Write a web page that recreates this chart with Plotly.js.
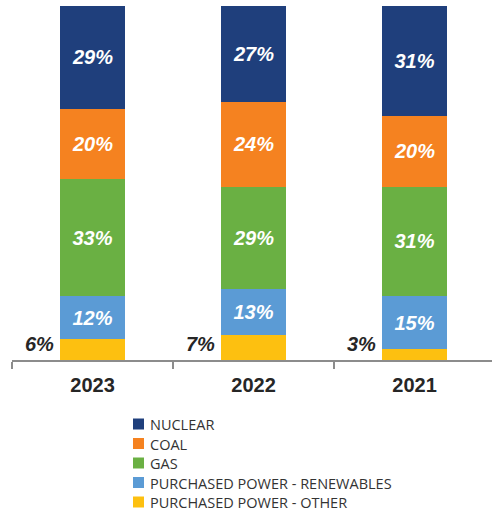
<!DOCTYPE html>
<html>
<head>
<meta charset="utf-8">
<script src="https://cdn.plot.ly/plotly-3.0.1.min.js"></script>
<style>html,body{margin:0;padding:0;background:#fff;}#chart{width:492px;height:511px;}</style>
</head>
<body>
<div id="chart"></div>
<script>
var categories = ["2023", "2022", "2021"];
var other = [6, 7, 3];
var renewables = [12, 13, 15];
var gas = [33, 29, 31];
var coal = [20, 24, 20];
var nuclear = [29, 27, 31];
var seriesNames = ["PURCHASED POWER - OTHER", "PURCHASED POWER - RENEWABLES", "GAS", "COAL", "NUCLEAR"];
var seriesColors = ["#FDC010", "#5B9BD5", "#6AB043", "#F58220", "#1F3F7C"];
var seriesValues = [other, renewables, gas, coal, nuclear];

var traces = seriesValues.map(function (vals, i) {
  var inside = i > 0;
  return {
    type: "bar",
    name: seriesNames[i],
    x: categories,
    y: vals,
    width: 0.404,
    marker: { color: seriesColors[i], line: { width: 0 } },
    text: inside ? vals.map(function (v) { return "<b><i>" + v + "%</i></b>"; }) : null,
    textposition: inside ? "inside" : "none",
    insidetextanchor: "middle",
    textangle: 0,
    constraintext: "none",
    textfont: { family: "Liberation Sans, Arial, sans-serif", size: 20, color: "#ffffff" },
    hoverinfo: "none",
    showlegend: false
  };
});

// plot area in pixels (for placing the hand-made legend)
var W = 492, H = 511, ML = 12, MR = 0, MT = 6, MB = 151;
var PW = W - ML - MR, PH = H - MT - MB;
function px2x(px) { return (px - ML) / PW; }
function py2y(py) { return (H - MB - py) / PH; }

var annotations = categories.map(function (c, i) {
  return {
    x: i, y: 0, xref: "x", yref: "y",
    text: "<b><i>" + other[i] + "%</i></b>",
    showarrow: false,
    xanchor: "right", yanchor: "bottom",
    xshift: -37, yshift: 3,
    font: { family: "Liberation Sans, Arial, sans-serif", size: 20, color: "#262626" }
  };
});

var shapes = [];
var legendTop = 424, legendStep = 19.5;
for (var k = 0; k < seriesNames.length; k++) {
  var idx = seriesNames.length - 1 - k;
  var cy = legendTop + k * legendStep;
  shapes.push({
    type: "rect", xref: "paper", yref: "paper",
    x0: px2x(133), x1: px2x(144), y0: py2y(cy + 5.5), y1: py2y(cy - 5.5),
    fillcolor: seriesColors[idx], line: { width: 0 }
  });
  annotations.push({
    xref: "paper", yref: "paper", x: px2x(148), y: py2y(cy + 0.5),
    xanchor: "left", yanchor: "middle", showarrow: false,
    text: seriesNames[idx],
    font: { family: "Open Sans, sans-serif", size: 14.5, color: "#333333" }
  });
}

var layout = {
  width: W, height: H,
  margin: { l: ML, r: MR, t: MT, b: MB, pad: 0 },
  paper_bgcolor: "#ffffff", plot_bgcolor: "#ffffff",
  barmode: "stack",
  showlegend: false,
  xaxis: {
    type: "category",
    range: [-0.5, 2.481],
    showgrid: false, zeroline: false,
    showline: true, linecolor: "#8c8c8c", linewidth: 1.5,
    ticks: "outside", tickson: "boundaries", ticklen: 7, tickcolor: "#8c8c8c", tickwidth: 1.5,
    tickfont: { family: "Liberation Sans, Arial, sans-serif", size: 20, color: "#262626", weight: "bold" },
    ticklabelstandoff: 6,
    automargin: false,
    fixedrange: true
  },
  yaxis: {
    range: [0, 100],
    visible: false, showgrid: false, zeroline: false,
    fixedrange: true
  },
  annotations: annotations,
  shapes: shapes,
  font: { family: "Liberation Sans, Arial, sans-serif" }
};

Plotly.newPlot("chart", traces, layout, { displayModeBar: false, staticPlot: true });
</script>
</body>
</html>
